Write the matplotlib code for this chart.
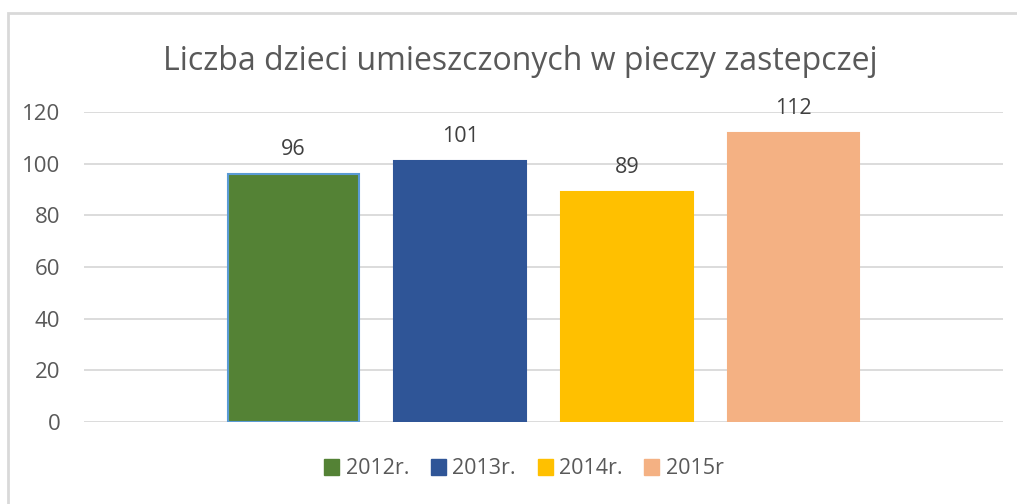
import matplotlib.pyplot as plt
from matplotlib.patches import Rectangle, Patch

years = ["2012r.", "2013r.", "2014r.", "2015r"]
counts = [96, 101, 89, 112]
colors = ["#548235", "#2F5597", "#FFC000", "#F4B183"]
edges = ["#5B9BD5", "#2F5597", "#FFC000", "#F4B183"]

title = "Liczba dzieci umieszczonych w pieczy zastepczej"
text_color = "#595959"
grid_color = "#D9D9D9"

plt.rcParams["font.family"] = ["Open Sans", "DejaVu Sans"]

fig = plt.figure(figsize=(10.17, 5.04), dpi=100)
ax = fig.add_axes([84 / 1017, 1 - 422 / 504, 919 / 1017, 310 / 504])

x = list(range(len(years)))
bars = ax.bar(x, counts, width=0.787, color=colors, edgecolor=edges, linewidth=1.5, zorder=3)
for rect, val in zip(bars, counts):
    ax.annotate(str(val), (rect.get_x() + rect.get_width() / 2, rect.get_height()),
                xytext=(0, 10), textcoords="offset points", ha="center", va="bottom",
                fontsize=15.5, color="#404040")

ax.set_ylim(0, 120)
ax.set_yticks(range(0, 121, 20))
ax.set_xlim(1.5 - 2.755, 1.5 + 2.755)
ax.set_xticks([])
ax.yaxis.grid(True, color=grid_color, linewidth=1.3, zorder=0)
ax.tick_params(axis="y", length=0, pad=17, labelsize=16, labelcolor=text_color)
for s in ax.spines.values():
    s.set_visible(False)

fig.text(520 / 1017, 1 - 61 / 504, title, ha="center", va="center",
         fontsize=23, color=text_color)

handles = [Patch(facecolor=c, edgecolor=c) for c in colors]
fig.legend(handles, years, loc="center", bbox_to_anchor=(524 / 1017, 1 - 469 / 504),
           ncol=4, frameon=False, fontsize=15.5, labelcolor=text_color,
           handlelength=0.7, handleheight=0.7, handletextpad=0.3, columnspacing=1.0)

# chart border
fig.patches.append(Rectangle((8 / 1017, -0.1), 1.2, 1.1 - 13 / 504,
                             transform=fig.transFigure, fill=False,
                             edgecolor=grid_color, linewidth=2))

fig.savefig("out.png", dpi=100)
